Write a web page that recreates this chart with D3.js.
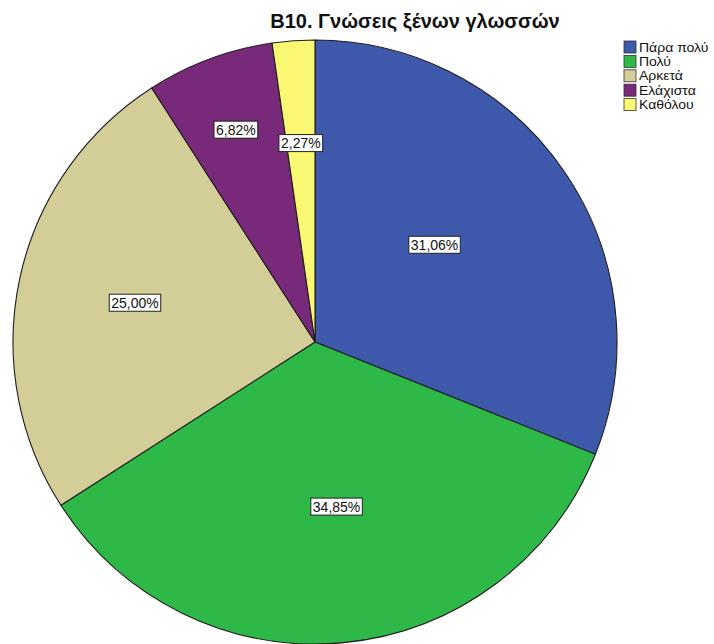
<!DOCTYPE html>
<html>
<head>
<meta charset="utf-8">
<script src="https://cdn.jsdelivr.net/npm/d3@7"></script>
<style>
  html, body { margin: 0; padding: 0; background: #fff; }
  svg { display: block; font-family: Arial, "Liberation Sans", sans-serif; }
</style>
</head>
<body>
<svg id="chart" width="714" height="644"></svg>
<script>
// Response categories and their shares (percent of respondents)
const categories = ["Πάρα πολύ", "Πολύ", "Αρκετά", "Ελάχιστα", "Καθόλου"];
const percents = [31.06, 34.85, 25.00, 6.82, 2.27];
const colors = ["#3e58ac", "#2eb848", "#d3ce97", "#79297a", "#fbf873"];
const title = "B10. Γνώσεις ξένων γλωσσών";

// Label placement per slice: distance as a fraction of the radius,
// and a small angular nudge (degrees) away from the slice bisector
const labelRadiusFrac = [0.51, 0.55, 0.61, 0.75, 0.66];
const labelAngleNudge = [-5, -2, 0, 0, 0];

const svg = d3.select("#chart");
const cx = 315, cy = 342, r = 302;

const data = categories.map((c, i) => ({ cat: c, value: percents[i], idx: i }));

const pie = d3.pie().value(d => d.value).sort(null);
const arc = d3.arc().innerRadius(0).outerRadius(r);
const color = d3.scaleOrdinal().domain(categories).range(colors);
const fmt = v => v.toFixed(2).replace(".", ",") + "%";

const g = svg.append("g").attr("transform", `translate(${cx},${cy})`);
const arcs = pie(data);

g.selectAll("path.slice")
  .data(arcs)
  .join("path")
  .attr("class", "slice")
  .attr("d", arc)
  .attr("fill", d => color(d.data.cat))
  .attr("stroke", "#1e1e1e")
  .attr("stroke-width", 1.1)
  .attr("stroke-linejoin", "round");

// Percentage labels in white boxes
const labels = g.selectAll("g.lbl")
  .data(arcs)
  .join("g")
  .attr("class", "lbl")
  .attr("transform", d => {
    const a = (d.startAngle + d.endAngle) / 2 + labelAngleNudge[d.data.idx] * Math.PI / 180;
    const rr = r * labelRadiusFrac[d.data.idx];
    return `translate(${rr * Math.sin(a)},${-rr * Math.cos(a)})`;
  });

labels.each(function(d) {
  const sel = d3.select(this);
  const t = sel.append("text")
    .attr("text-anchor", "middle")
    .attr("dy", "0.35em")
    .attr("font-size", 14)
    .attr("fill", "#111")
    .text(fmt(d.data.value));
  const bb = t.node().getBBox();
  sel.insert("rect", "text")
    .attr("x", bb.x - 2)
    .attr("y", bb.y - 0.5)
    .attr("width", bb.width + 4)
    .attr("height", bb.height + 1)
    .attr("fill", "#fff")
    .attr("stroke", "#222")
    .attr("stroke-width", 1);
});

// Title
svg.append("text")
  .attr("x", 415)
  .attr("y", 28)
  .attr("text-anchor", "middle")
  .attr("font-size", 20)
  .attr("font-weight", "bold")
  .attr("fill", "#111")
  .text(title);

// Legend (compact rows, slightly widened glyphs)
const legend = svg.append("g").attr("transform", "translate(624,41)");
const items = legend.selectAll("g")
  .data(categories)
  .join("g")
  .attr("transform", (d, i) => `translate(0,${i * 14.4})`);
items.append("rect")
  .attr("width", 12)
  .attr("height", 12)
  .attr("fill", d => color(d))
  .attr("stroke", "#333")
  .attr("stroke-width", 0.8);
items.append("text")
  .attr("transform", "translate(15,10.5) scale(1.12,1)")
  .attr("font-size", 12.5)
  .attr("fill", "#111")
  .text(d => d);
</script>
</body>
</html>
